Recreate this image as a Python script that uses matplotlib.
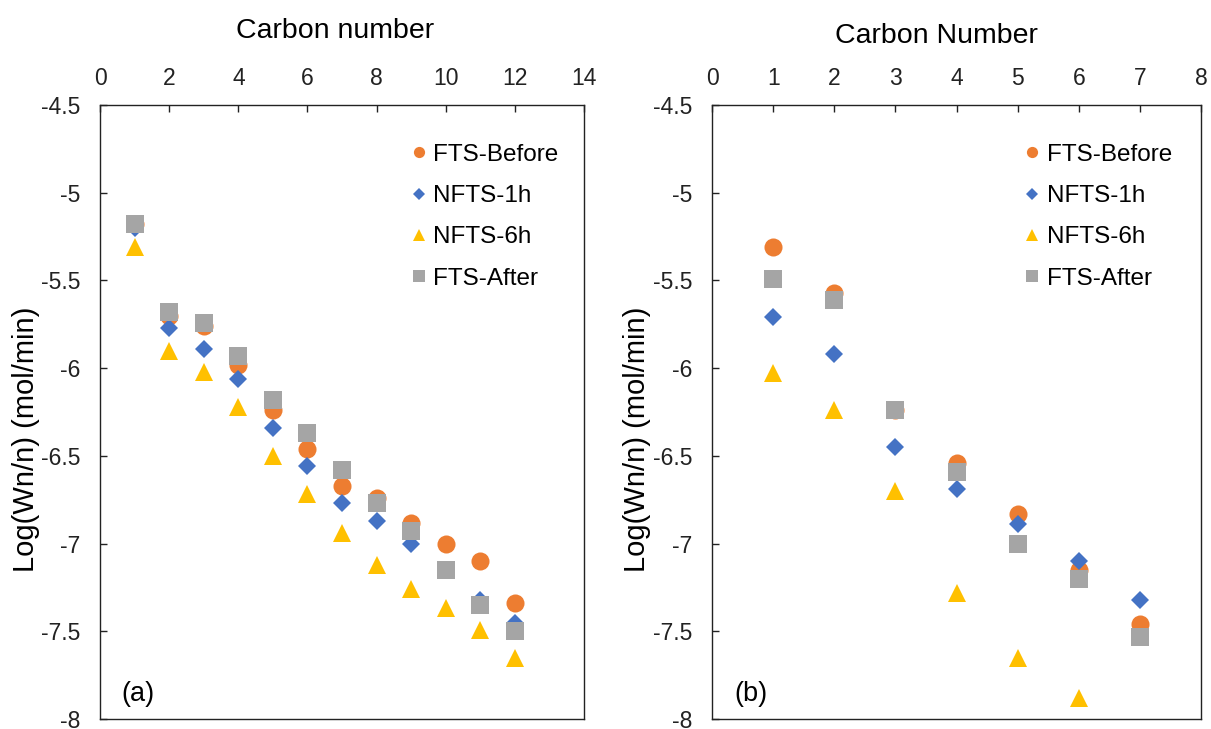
import matplotlib
matplotlib.use("Agg")
import matplotlib.pyplot as plt
from matplotlib.ticker import FuncFormatter, MultipleLocator

plt.rcParams["font.family"] = ["Liberation Sans", "DejaVu Sans"]
plt.rcParams["axes.unicode_minus"] = False

series_names = ["FTS-Before", "NFTS-1h", "NFTS-6h", "FTS-After"]
series_colors = ["#ED7D31", "#4472C4", "#FFC000", "#A5A5A5"]
series_markers = ["o", "D", "^", "s"]
series_sizes = [13, 9.5, 13.5, 13.5]

# Panel (a): C1-C12
carbon_a = [1, 2, 3, 4, 5, 6, 7, 8, 9, 10, 11, 12]
fts_before_a = [-5.18, -5.70, -5.76, -5.98, -6.24, -6.46, -6.67, -6.74, -6.88, -7.00, -7.10, -7.34]
nfts_1h_a = [-5.20, -5.77, -5.89, -6.06, -6.34, -6.56, -6.77, -6.87, -7.00, -7.15, -7.32, -7.45]
nfts_6h_a = [-5.31, -5.90, -6.02, -6.22, -6.50, -6.72, -6.94, -7.12, -7.26, -7.37, -7.49, -7.65]
fts_after_a = [-5.18, -5.68, -5.74, -5.93, -6.18, -6.37, -6.58, -6.77, -6.93, -7.15, -7.35, -7.50]

# Panel (b): C1-C7
carbon_b = [1, 2, 3, 4, 5, 6, 7]
fts_before_b = [-5.31, -5.57, -6.24, -6.54, -6.83, -7.15, -7.46]
nfts_1h_b = [-5.71, -5.92, -6.45, -6.69, -6.89, -7.10, -7.32]
nfts_6h_b = [-6.03, -6.24, -6.70, -7.28, -7.65, -7.88, None]
fts_after_b = [-5.49, -5.61, -6.24, -6.59, -7.00, -7.20, -7.53]

yticks = [-4.5, -5, -5.5, -6, -6.5, -7, -7.5, -8]

fig = plt.figure(figsize=(12.11, 7.29), dpi=100)
ax_a = fig.add_axes([0.0826, 0.0137, 0.3997, 0.8422])
ax_b = fig.add_axes([0.5880, 0.0137, 0.4038, 0.8422])

panels = [
    (ax_a, carbon_a, [fts_before_a, nfts_1h_a, nfts_6h_a, fts_after_a],
     (0, 14), 2, "Carbon number", "(a)", 0.486, 1.109, 0.982),
    (ax_b, carbon_b, [fts_before_b, nfts_1h_b, nfts_6h_b, fts_after_b],
     (0, 8), 1, "Carbon Number", "(b)", 0.458, 1.101, 0.976),
]

tick_fs = 16.5
title_fs = 20.5
for ax, xs, ys_list, xlim, xstep, xlabel, tag, title_x, title_y, leg_x in panels:
    for name, ys, c, m, ms in zip(series_names, ys_list, series_colors,
                                  series_markers, series_sizes):
        pts = [(x, y) for x, y in zip(xs, ys) if y is not None]
        ax.plot([p[0] for p in pts], [p[1] for p in pts], linestyle="none",
                marker=m, markersize=ms, color=c, markeredgewidth=0,
                label=name)
    ax.set_xlim(*xlim)
    ax.set_ylim(-8, -4.5)
    ax.xaxis.set_major_locator(MultipleLocator(xstep))
    ax.set_yticks(yticks)
    ax.yaxis.set_major_formatter(FuncFormatter(lambda v, p: f"{v:g}"))
    ax.xaxis.tick_top()
    ax.xaxis.set_label_position("top")
    ax.tick_params(axis="both", direction="in", length=5, width=1,
                   labelsize=tick_fs, colors="#222222")
    ax.tick_params(axis="x", pad=11)
    ax.tick_params(axis="y", pad=14)
    ax.set_xlabel(xlabel, fontsize=title_fs)
    ax.xaxis.set_label_coords(title_x, title_y)
    ax.set_ylabel("Log(Wn/n) (mol/min)", fontsize=title_fs + 0.5)
    ax.yaxis.set_label_coords(-0.125, 0.455)
    for sp in ax.spines.values():
        sp.set_linewidth(1.0)
        sp.set_color("#222222")
    ax.text(0.045, 0.02, tag, transform=ax.transAxes, fontsize=title_fs - 1,
            ha="left", va="bottom")
    ax.legend(loc="upper right", bbox_to_anchor=(leg_x, 0.965), frameon=False,
              markerscale=0.62, fontsize=tick_fs + 1, handlelength=0.6,
              handletextpad=0.3, labelspacing=0.8, borderaxespad=0.3)

fig.savefig("out.png", dpi=100)
